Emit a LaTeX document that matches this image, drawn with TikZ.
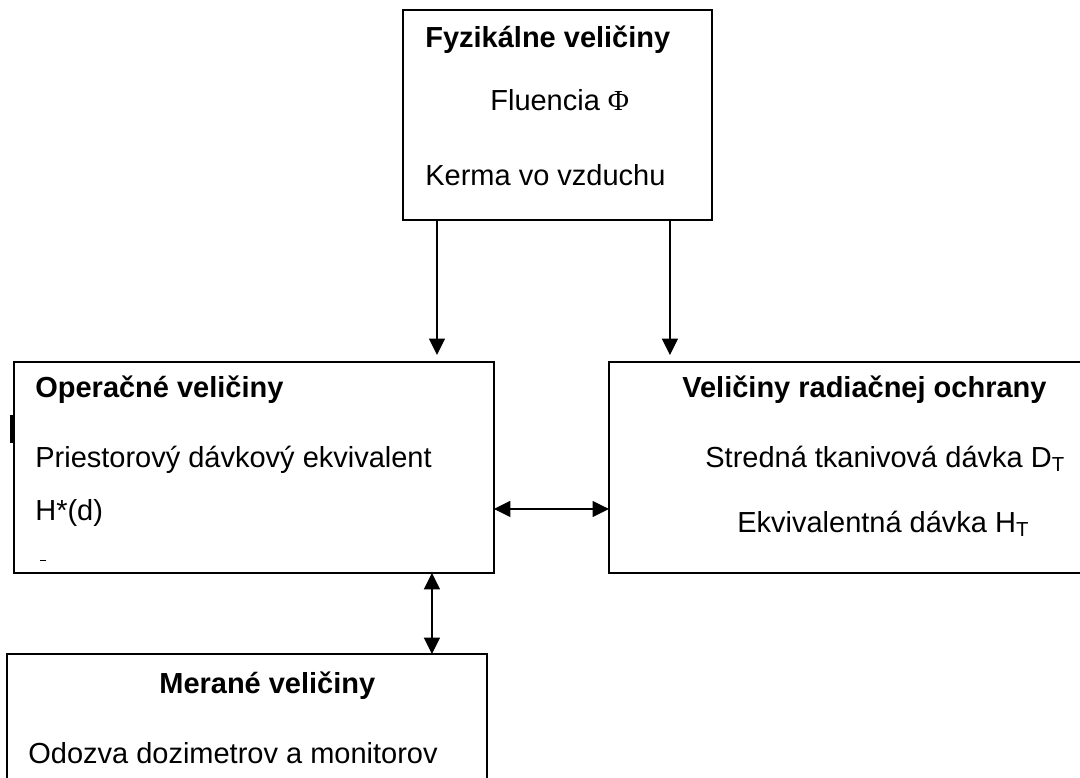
\documentclass[tikz,border=0pt]{standalone}
\usepackage{fontspec}
\setmainfont{Liberation Sans}
\newfontfamily\phifont{Liberation Serif}
\usetikzlibrary{arrows.meta}
\usetikzlibrary{positioning}
\tikzset{box/.style = {draw, line width=0.9pt, inner sep=0pt, outer sep=0pt, anchor=north west},
         txt/.style = {anchor=base west, inner sep=0pt, font=\fontsize{16.5}{20}\selectfont},
         head/.style = {txt, font=\fontsize{16.5}{20}\selectfont\bfseries},
         arr/.style = {line width=0.9pt, -{Triangle[length=0.33cm, width=0.32cm]}},
         darr/.style = {line width=0.9pt,
                        {Triangle[length=0.33cm, width=0.32cm]}-{Triangle[length=0.33cm, width=0.32cm]}}}

\begin{document}
\begin{tikzpicture}[x=0.02cm, y=-0.02cm]
      \useasboundingbox (0, 0) rectangle (1080, 778);

      \node [box, minimum width=6.18cm, minimum height=4.2cm] (fyz) at (403, 10) {};
      \node [box, minimum width=9.6cm, minimum height=4.22cm] (oper) at (14, 362) {};
      \node [box, minimum width=9.6cm, minimum height=4.22cm] (rad) at (609, 362) {};
      \node [box, minimum width=9.6cm, minimum height=3cm] (mer) at (7, 654) {};

      \node [head] (fyzh) at (425, 47) {Fyzikálne veličiny};
      \node [txt] (fluen) at (490, 110) {Fluencia {\phifont Φ}};
      \node [txt] (kerma) at (425, 185) {Kerma vo vzduchu};

      \node [head] (operh) at (35, 397) {Operačné veličiny};
      \node [txt] (priest) at (35, 467) {Priestorový dávkový ekvivalent};
      \node [txt] (hstar) at (35, 520) {H*(d)};

      \node [head] (radh) at (682, 397) {Veličiny radiačnej ochrany};
      \node [txt] (dt) at (705, 467) {Stredná tkanivová dávka D\textsubscript{T}};
      \node [txt] (ht) at (737, 532) {Ekvivalentná dávka H\textsubscript{T}};

      \node [head] (merh) at (159, 693) {Merané veličiny};
      \node [txt] (odozva) at (28, 763) {Odozva dozimetrov a monitorov};

      % stray marks on the left box
      \draw [line width=1.6pt] (11.5, 415) -- (11.5, 443);
      \draw [line width=0.5pt] (40, 560) -- (46, 560);

      \coordinate (fyzl) at ([xshift=0.68cm]fyz.south west);
      \coordinate (fyzr) at ([xshift=5.34cm]fyz.south west);
      \coordinate (opmid) at ([yshift=-0.83cm]oper.east);
      \coordinate (opbot) at ([xshift=8.36cm]oper.south west);

      \draw [arr, shorten >=0.14cm] (fyzl) -- (fyzl |- oper.north);
      \draw [arr, shorten >=0.14cm] (fyzr) -- (fyzr |- rad.north);
      \draw [darr] (opmid) -- (opmid -| rad.west);
      \draw [darr] (opbot) -- (opbot |- mer.north);
    \end{tikzpicture}
\end{document}
